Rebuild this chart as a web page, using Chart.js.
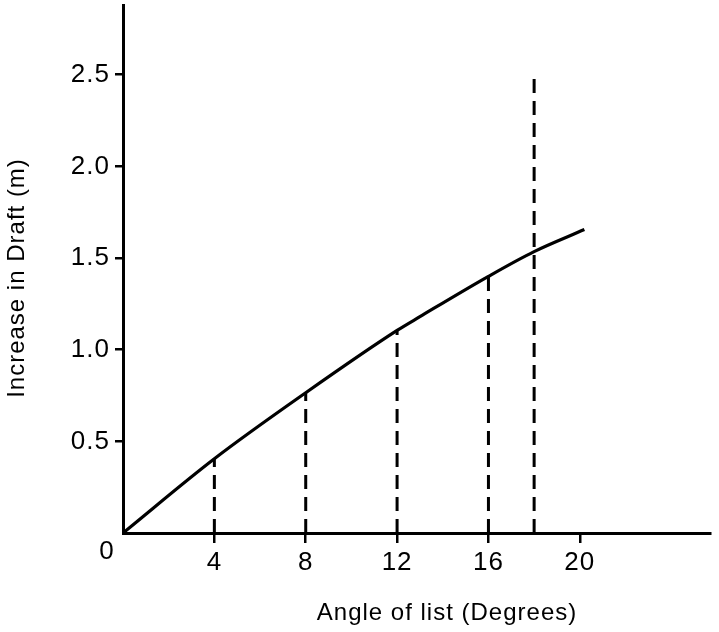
<!DOCTYPE html>
<html>
<head>
<meta charset="utf-8">
<script src="https://cdn.jsdelivr.net/npm/chart.js@4/dist/chart.umd.min.js"></script>
<style>
  html, body { margin: 0; padding: 0; background: #fff; }
  #wrap { width: 719px; height: 632px; }
</style>
</head>
<body>
<div id="wrap"><canvas id="draftChart" width="719" height="632"></canvas></div>
<script>
// curve
const listAngle = [0, 4, 8, 12, 13, 16, 18, 20.2];
const draftRise = [0, 0.405, 0.765, 1.105, 1.18, 1.40, 1.535, 1.655];

// dashed drop lines
const dropX = [4, 8, 12, 16, 18];
const dropTop = [0.405, 0.765, 1.105, 1.40, 2.5];

const xTicks = [4, 8, 12, 16, 20];
const yTicks = [0, 0.5, 1.0, 1.5, 2.0, 2.5];

const xTitle = "Angle of list (Degrees)";
const yTitle = "Increase in Draft (m)";

const FONT = '"Liberation Sans", Arial, Helvetica, sans-serif';

const datasets = dropX.map((x, i) => ({
  data: [{ x: x, y: 0 }, { x: x, y: dropTop[i] }],
  borderColor: "#000",
  borderWidth: 3,
  borderDash: [14, 8],
  pointRadius: 0
}));

datasets.push({
  data: listAngle.map((a, i) => ({ x: a, y: draftRise[i] })),
  borderColor: "#000",
  borderWidth: 3.2,
  pointRadius: 0,
  cubicInterpolationMode: "monotone"
});

const extraText = {
  id: "extraText",
  beforeDraw(chart) {
    chart.ctx.letterSpacing = "1px";
  },
  afterDraw(chart) {
    const ctx = chart.ctx;
    ctx.save();
    ctx.fillStyle = "#000";
    ctx.letterSpacing = "1px";
    // origin label
    ctx.textAlign = "center";
    ctx.textBaseline = "middle";
    ctx.font = "26px " + FONT;
    ctx.fillText("0", 107, 552);
    // x title
    ctx.font = "24px " + FONT;
    ctx.textBaseline = "alphabetic";
    ctx.fillText(xTitle, 447, 620);
    // y title
    ctx.translate(24, 278);
    ctx.rotate(-Math.PI / 2);
    ctx.fillText(yTitle, 0, 0);
    ctx.restore();
  }
};

new Chart(document.getElementById("draftChart"), {
  type: "line",
  data: { datasets: datasets },
  options: {
    responsive: false,
    animation: false,
    layout: { padding: { top: 5, right: 9, left: 0, bottom: 0 } },
    plugins: { legend: { display: false }, tooltip: { enabled: false } },
    scales: {
      x: {
        type: "linear",
        min: 0,
        max: 25.7,
        afterBuildTicks: s => { s.ticks = xTicks.map(v => ({ value: v })); },
        afterFit: s => { s.height = 99; s.paddingLeft = 0; s.paddingRight = 0; },
        border: { color: "#000", width: 3 },
        grid: { drawOnChartArea: false, drawTicks: true, tickLength: 10, color: "#000", lineWidth: 2.5 },
        ticks: { color: "#000", font: { size: 26, family: FONT }, padding: 4, maxRotation: 0 }
      },
      y: {
        min: 0,
        max: 2.88,
        afterBuildTicks: s => { s.ticks = yTicks.map(v => ({ value: v })); },
        afterFit: s => { s.width = 123; s.paddingTop = 0; s.paddingBottom = 0; },
        border: { color: "#000", width: 3 },
        grid: {
          drawOnChartArea: false, drawTicks: true, tickLength: 8, lineWidth: 2.5,
          color: c => (c.tick && c.tick.value === 0 ? "rgba(0,0,0,0)" : "#000")
        },
        ticks: {
          color: "#000", font: { size: 26, family: FONT }, padding: 5,
          callback: v => (v === 0 ? "" : v.toFixed(1))
        }
      }
    }
  },
  plugins: [extraText]
});
</script>
</body>
</html>
